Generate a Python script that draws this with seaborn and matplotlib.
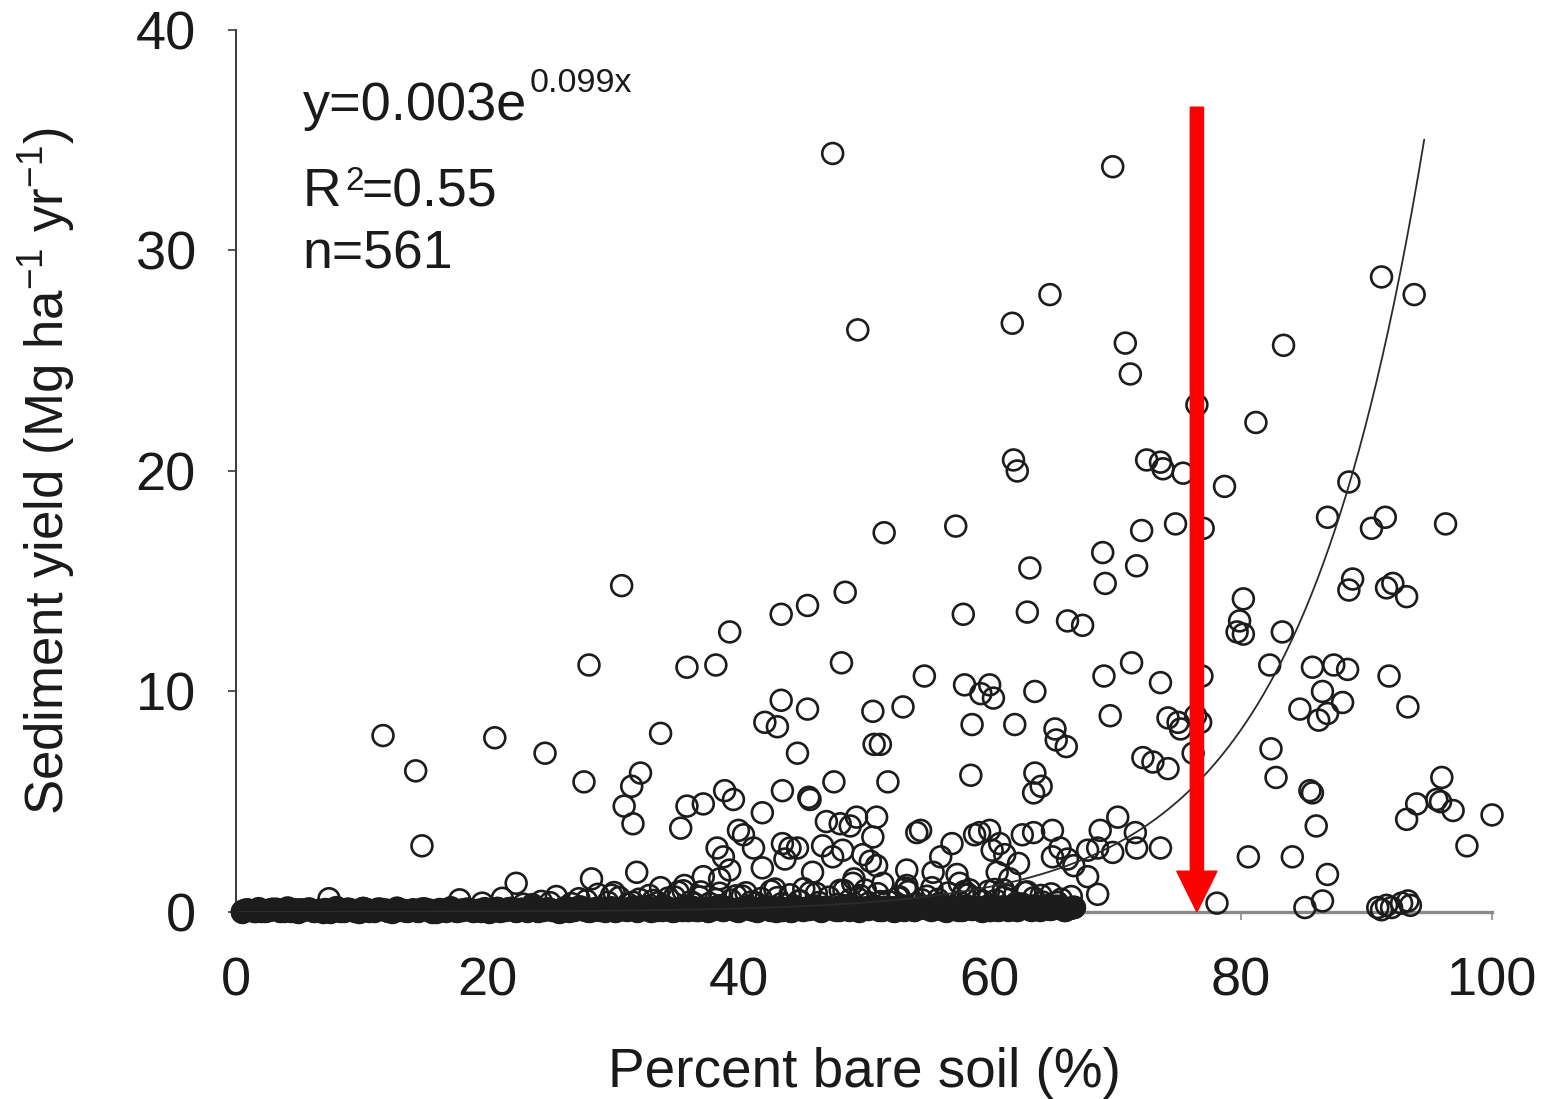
import numpy as np
import pandas as pd
import matplotlib
matplotlib.use("Agg")
import matplotlib.pyplot as plt
import seaborn as sns

# ---- observations: percent bare soil vs sediment yield (Mg/ha/yr) ----
# scattered points clearly above the zero band
bare_scatter = [
    47.5, 69.8, 91.2, 64.8, 93.8, 61.8, 49.5, 70.8, 83.4, 71.2,
    76.5, 81.2, 61.9, 62.2, 72.5, 73.6, 73.8, 75.4, 78.7, 88.6,
    30.7, 57.3, 51.6, 72.1, 74.8, 77.0, 86.9, 90.4, 91.5, 96.3,
    69.0, 71.7, 63.2, 69.2, 80.2, 79.9, 79.7, 80.2, 88.6, 88.9,
    91.6, 92.1, 93.2, 48.5, 43.4, 45.5, 57.9, 63.0, 66.2, 67.4,
    83.3, 39.3, 28.1, 35.9, 38.2, 48.2, 71.3, 82.3, 85.7, 87.4,
    88.5, 54.8, 69.1, 76.9, 91.8, 58.0, 60.0, 73.6, 63.6, 59.3,
    60.3, 43.4, 86.5, 53.1, 84.7, 88.1, 93.3, 45.5, 86.9, 86.2,
    69.6, 50.7, 42.1, 43.1, 58.6, 62.0, 74.2, 75.0, 75.2, 76.8,
    76.4, 65.2, 65.3, 66.1, 11.7, 20.6, 33.8, 51.3, 50.8, 82.4,
    24.6, 44.7, 72.2, 73.0, 74.2, 76.2, 14.3, 32.2, 58.5, 82.8,
    96.0, 27.7, 51.9, 47.6, 63.6, 64.1, 63.5, 31.5, 38.9, 43.5,
    45.6, 45.7, 85.5, 85.7, 95.6, 95.9, 94.0, 96.9, 100.0, 35.9,
    37.2, 30.9, 39.6, 47.0, 93.2, 31.6, 41.9, 35.4, 40.0, 40.4,
    14.8, 86.0, 65.6, 66.7, 68.6, 69.8, 53.4, 84.1, 22.3, 49.2,
    86.9, 86.5, 85.1, 7.4, 90.9, 91.2, 91.6, 92.8, 93.3, 92.0,
    93.5, 61.1, 61.6, 50.5, 67.8, 61.2, 60.2, 98.0, 38.3, 38.8,
    39.3, 41.2, 41.9, 43.5, 44.1, 44.7, 43.7, 45.9, 46.7, 48.1,
    48.9, 49.4, 51.0, 50.7, 47.5, 48.3, 49.9, 51.0, 54.5, 54.2,
    57.0, 56.1, 55.5, 57.4, 58.8, 31.9, 28.3, 33.8, 35.7, 37.2,
    38.5, 49.1, 51.5, 53.4, 57.6, 58.4, 60.6, 59.2, 60.0, 60.8,
    62.6, 63.5, 65.0, 62.3, 65.0, 68.8, 70.2, 71.6, 71.7, 73.6,
    67.8, 68.6, 66.2, 80.6, 78.1,
]
sed_scatter = [
    34.4, 33.8, 28.8, 28.0, 28.0, 26.7, 26.4, 25.8, 25.7, 24.4,
    23.0, 22.2, 20.5, 20.0, 20.5, 20.4, 20.1, 19.9, 19.3, 19.5,
    14.8, 17.5, 17.2, 17.3, 17.6, 17.4, 17.9, 17.4, 17.9, 17.6,
    16.3, 15.7, 15.6, 14.9, 14.2, 13.2, 12.7, 12.6, 14.6, 15.1,
    14.7, 14.9, 14.3, 14.5, 13.5, 13.9, 13.5, 13.6, 13.2, 13.0,
    12.7, 12.7, 11.2, 11.1, 11.2, 11.3, 11.3, 11.2, 11.1, 11.2,
    11.0, 10.7, 10.7, 10.7, 10.7, 10.3, 10.3, 10.4, 10.0, 9.9,
    9.7, 9.6, 10.0, 9.3, 9.2, 9.5, 9.3, 9.2, 9.0, 8.7,
    8.9, 9.1, 8.6, 8.4, 8.5, 8.5, 8.8, 8.6, 8.3, 8.6,
    8.9, 8.3, 7.8, 7.5, 8.0, 7.9, 8.1, 7.6, 7.6, 7.4,
    7.2, 7.2, 7.0, 6.8, 6.5, 7.2, 6.4, 6.3, 6.2, 6.1,
    6.1, 5.9, 5.9, 5.9, 6.3, 5.7, 5.4, 5.7, 5.5, 5.5,
    5.2, 5.1, 5.5, 5.4, 5.1, 5.0, 4.9, 4.6, 4.4, 4.8,
    4.9, 4.8, 5.1, 4.1, 4.2, 4.0, 4.5, 3.8, 3.7, 3.5,
    3.0, 3.9, 2.9, 2.1, 2.9, 2.7, 1.9, 2.5, 1.3, 1.5,
    1.7, 0.5, 0.2, 0.6, 0.2, 0.1, 0.3, 0.4, 0.5, 0.2,
    0.3, 1.0, 1.5, 2.3, 2.8, 2.6, 2.8, 3.0, 2.9, 2.5,
    1.9, 2.9, 2.0, 3.1, 2.9, 2.9, 2.4, 1.8, 3.0, 4.0,
    3.9, 4.3, 4.3, 3.4, 2.5, 2.8, 2.6, 2.1, 3.7, 3.6,
    3.1, 2.5, 1.8, 1.7, 3.5, 1.8, 1.5, 1.1, 1.2, 1.6,
    1.5, 1.3, 1.3, 1.2, 1.3, 1.0, 1.8, 3.6, 3.7, 3.1,
    3.5, 3.6, 3.7, 2.2, 2.5, 3.7, 4.3, 3.6, 2.9, 2.9,
    1.6, 0.8, 2.4, 2.5, 0.4,
]

# sites with almost no sediment yield (the dense band along zero)
bare_zero = [
    0.5, 0.9, 1.4, 1.8, 2.3, 2.6, 3.2, 3.5, 4.1, 4.4, 4.9, 5.3,
    5.8, 6.2, 6.6, 7.1, 7.5, 8.0, 8.3, 8.9, 9.2, 9.8, 10.1, 10.6,
    11.0, 11.5, 11.9, 12.4, 12.8, 13.3, 13.6, 14.1, 14.5, 15.0, 15.4, 15.9,
    16.2, 16.7, 17.1, 17.6, 18.0, 18.4, 18.9, 19.3, 19.8, 20.1, 20.6, 21.0,
    21.4, 21.9, 22.3, 22.7, 23.2, 23.5, 24.0, 24.4, 24.9, 25.2, 25.7, 26.1,
    26.5, 26.9, 27.4, 27.8, 28.1, 28.6, 29.0, 29.4, 29.9, 30.2, 30.6, 31.1,
    31.4, 31.9, 32.3, 32.7, 33.0, 33.5, 33.9, 34.3, 34.8, 35.1, 35.5, 36.0,
    36.3, 36.8, 37.1, 37.6, 38.0, 38.4, 38.8, 39.2, 39.7, 40.0, 40.5, 40.9,
    41.2, 41.7, 42.1, 42.5, 43.0, 43.3, 43.8, 44.2, 44.6, 45.1, 45.4, 45.9,
    46.3, 46.6, 47.1, 47.5, 48.0, 48.3, 48.8, 49.1, 49.6, 50.0, 50.3, 50.8,
    51.2, 51.6, 52.0, 52.4, 52.9, 53.2, 53.7, 54.0, 54.5, 54.9, 55.3, 55.7,
    56.1, 56.5, 57.0, 57.3, 57.8, 58.1, 58.6, 59.0, 59.4, 59.8, 60.2, 60.7,
    61.0, 61.5, 61.9, 62.2, 62.7, 63.1, 63.6, 64.0, 64.3, 64.8, 65.3, 65.9,
    66.4, 0.7, 1.6, 2.9, 3.8, 5.1, 6.9, 7.8, 9.5, 10.4, 12.1, 13.0,
    14.8, 15.6, 17.3, 18.7, 19.5, 20.8, 22.1, 23.8, 24.6, 25.9, 27.1, 28.4,
    29.2, 30.4, 31.7, 32.5, 33.7, 34.6, 35.8, 36.6, 37.8, 38.6, 39.9, 40.7,
    41.5, 42.3, 43.5, 44.4, 45.6, 46.8, 47.8, 48.6, 49.4, 50.5, 51.4, 52.2,
    53.0, 53.9, 54.7, 55.5, 56.3, 57.5, 58.3, 59.2, 60.0, 60.9, 61.7, 62.5,
    63.3, 64.5, 65.1, 65.6, 66.0, 2.0, 4.7, 8.6, 11.3, 16.5, 21.7, 26.3,
    30.8, 34.1, 37.4, 42.8, 46.1, 49.8, 55.0, 58.9, 62.0, 63.9, 64.6, 66.7,
]
sed_zero = [
    0.02, 0.10, 0.05, 0.15, 0.03, 0.08, 0.12, 0.04, 0.18, 0.06, 0.01, 0.09,
    0.14, 0.03, 0.07, 0.11, 0.02, 0.20, 0.05, 0.13, 0.08, 0.01, 0.16, 0.06,
    0.04, 0.12, 0.09, 0.02, 0.17, 0.07, 0.03, 0.10, 0.05, 0.14, 0.08, 0.02,
    0.11, 0.06, 0.19, 0.03, 0.09, 0.13, 0.04, 0.07, 0.15, 0.02, 0.10, 0.05,
    0.08, 0.16, 0.03, 0.12, 0.06, 0.21, 0.04, 0.09, 0.14, 0.07, 0.02, 0.18,
    0.05, 0.11, 0.23, 0.08, 0.03, 0.15, 0.10, 0.06, 0.19, 0.04, 0.12, 0.09,
    0.17, 0.06, 0.13, 0.24, 0.05, 0.10, 0.08, 0.20, 0.03, 0.14, 0.11, 0.07,
    0.22, 0.09, 0.15, 0.04, 0.12, 0.26, 0.07, 0.18, 0.10, 0.05, 0.21, 0.13,
    0.08, 0.16, 0.25, 0.11, 0.06, 0.19, 0.14, 0.03, 0.22, 0.09, 0.17, 0.27,
    0.12, 0.05, 0.20, 0.15, 0.08, 0.28, 0.10, 0.23, 0.06, 0.18, 0.13, 0.25,
    0.09, 0.21, 0.14, 0.04, 0.26, 0.11, 0.19, 0.07, 0.24, 0.16, 0.10, 0.29,
    0.13, 0.06, 0.22, 0.17, 0.09, 0.27, 0.12, 0.20, 0.05, 0.25, 0.15, 0.08,
    0.18, 0.11, 0.24, 0.07, 0.21, 0.14, 0.28, 0.09, 0.19, 0.12, 0.26, 0.10,
    0.16, 0.07, 0.03, 0.12, 0.05, 0.09, 0.02, 0.14, 0.06, 0.11, 0.04, 0.08,
    0.13, 0.02, 0.07, 0.10, 0.05, 0.16, 0.09, 0.20, 0.12, 0.06, 0.18, 0.11,
    0.15, 0.08, 0.22, 0.13, 0.19, 0.07, 0.24, 0.10, 0.17, 0.28, 0.12, 0.21,
    0.06, 0.18, 0.11, 0.25, 0.14, 0.20, 0.09, 0.27, 0.16, 0.23, 0.08, 0.19,
    0.26, 0.12, 0.21, 0.15, 0.29, 0.10, 0.24, 0.17, 0.07, 0.22, 0.14, 0.27,
    0.11, 0.20, 0.16, 0.25, 0.09, 0.04, 0.10, 0.06, 0.13, 0.08, 0.15, 0.19,
    0.12, 0.23, 0.17, 0.20, 0.26, 0.14, 0.21, 0.18, 0.24, 0.16, 0.28, 0.22,
]

# low-yield sites just above the zero band
bare_low = [
    17.8, 19.6, 21.2, 22.9, 24.3, 25.5, 26.7, 27.9, 28.8, 29.6, 30.5, 31.2,
    32.1, 32.9, 33.6, 34.4, 35.2, 36.2, 36.9, 37.7, 38.5, 39.4, 40.3, 41.0,
    41.8, 42.6, 43.4, 44.1, 44.9, 45.7, 46.4, 47.2, 48.1, 48.9, 49.7, 50.4,
    51.1, 51.9, 52.7, 53.5, 54.2, 55.0, 55.9, 56.7, 57.6, 58.3, 59.1, 59.9,
    60.5, 61.3, 62.1, 62.8, 63.5, 64.2, 64.9, 65.7, 66.5, 23.6, 27.3, 29.9,
    31.6, 33.2, 34.9, 36.5, 38.2, 39.8, 41.4, 43.1, 44.8, 46.2, 47.9, 49.5,
    51.3, 52.8, 54.6, 56.0, 57.9, 59.5, 61.1, 62.6, 64.1, 65.4, 35.6, 40.6,
    45.2, 50.1, 53.3, 58.0, 60.4, 63.0, 55.4, 48.4, 42.9, 37.0, 30.1, 25.0,
]
sed_low = [
    0.55, 0.40, 0.62, 0.35, 0.48, 0.70, 0.38, 0.52, 0.80, 0.44, 0.66, 0.36,
    0.58, 0.75, 0.42, 0.63, 0.90, 0.47, 0.68, 0.39, 0.85, 0.54, 0.72, 0.45,
    0.61, 0.95, 0.37, 0.78, 0.50, 0.88, 0.43, 0.67, 0.98, 0.56, 0.74, 0.41,
    0.83, 0.49, 0.65, 0.92, 0.38, 0.71, 0.57, 0.86, 0.46, 0.79, 0.60, 0.94,
    0.53, 0.77, 0.40, 0.89, 0.64, 0.45, 0.82, 0.58, 0.70, 0.33, 0.60, 0.76,
    0.44, 0.52, 0.68, 0.37, 0.57, 0.73, 0.41, 0.65, 0.50, 0.84, 0.35, 0.62,
    0.47, 0.69, 0.55, 0.39, 0.81, 0.48, 0.66, 0.36, 0.75, 0.43, 0.96, 0.87,
    1.05, 0.99, 1.08, 0.93, 1.02, 0.91, 1.10, 0.97, 1.04, 0.91, 0.88, 0.42,
]

# fitted exponential model y = a * exp(b * x)
fit_a = 0.003
fit_b = 0.099
fit_xmax = 94.6

# threshold marker
threshold_x = 76.5
threshold_top = 36.5

df = pd.DataFrame({
    "bare": bare_scatter + bare_low + bare_zero,
    "sed": sed_scatter + sed_low + sed_zero,
})
df_zero = pd.DataFrame({"bare": bare_zero, "sed": sed_zero})

sns.set_theme(style="ticks")
plt.rcParams["font.family"] = ["Liberation Sans", "DejaVu Sans"]
plt.rcParams["mathtext.fontset"] = "custom"
plt.rcParams["mathtext.rm"] = "Liberation Sans"

fig = plt.figure(figsize=(15.46, 10.99), dpi=100)
ax = fig.add_axes([0.1527, 0.1702, 0.9651 - 0.1527, 0.9727 - 0.1702])

ring = dict(marker="o", s=225, edgecolor="#1c1c1c", linewidth=1.9,
            clip_on=False, legend=False)

# all 561 sites as open circles
sns.scatterplot(data=df, x="bare", y="sed", ax=ax, color="none",
                zorder=3, **ring)
# the near-zero sites overlap so heavily that they merge into a solid band
sns.scatterplot(data=df_zero, x="bare", y="sed", ax=ax, color="#1c1c1c",
                zorder=3.5, **ring)

xfit = np.linspace(0, fit_xmax, 400)
sns.lineplot(x=xfit, y=fit_a * np.exp(fit_b * xfit), ax=ax,
             color="#2b2b2b", linewidth=1.3, zorder=4, sort=False)

ax.arrow(threshold_x, threshold_top, 0, -threshold_top,
         width=1.05, head_width=3.2, head_length=1.85,
         length_includes_head=True, color="#ff0000", zorder=6,
         clip_on=False)

ax.set_xlim(0, 100)
ax.set_ylim(0, 40)
ax.set_xticks([0, 20, 40, 60, 80, 100])
ax.set_yticks([0, 10, 20, 30, 40])

for side in ("top", "right"):
    ax.spines[side].set_visible(False)
ax.spines["left"].set_color("#3a3a3a")
ax.spines["left"].set_linewidth(1.4)
ax.spines["bottom"].set_color("#8a8a8a")
ax.spines["bottom"].set_linewidth(2.4)
ax.spines["bottom"].set_zorder(2)

ax.tick_params(axis="y", direction="out", length=6, width=1.2,
               color="#3a3a3a", labelsize=39, pad=23, labelcolor="#1a1a1a")
ax.tick_params(axis="x", direction="out", length=6, width=1.2,
               color="#8a8a8a", labelsize=39, pad=26, labelcolor="#1a1a1a")

ax.set_xlabel("Percent bare soil (%)", fontsize=39.5, color="#1a1a1a")
ax.set_ylabel(r"Sediment yield (Mg ha$^{\mathregular{-1}}$ yr$^{\mathregular{-1}}$)",
              fontsize=38, color="#1a1a1a")
ax.xaxis.set_label_coords(0.5, -0.153)
ax.yaxis.set_label_coords(-0.127, 0.5)

txt = dict(color="#1a1a1a", ha="left", va="baseline")
ax.text(5.3, 35.9, "y=0.003e", fontsize=39, **txt)
ax.text(23.4, 37.2, "0.099x", fontsize=24.5, **txt)
ax.text(5.3, 32.0, "R", fontsize=38.5, **txt)
ax.text(8.7, 32.75, "2", fontsize=24, **txt)
ax.text(10.0, 32.0, "=0.55", fontsize=38.5, **txt)
ax.text(5.3, 29.2, "n=561", fontsize=38.5, **txt)

fig.savefig("out.png", dpi=100, facecolor="white")
